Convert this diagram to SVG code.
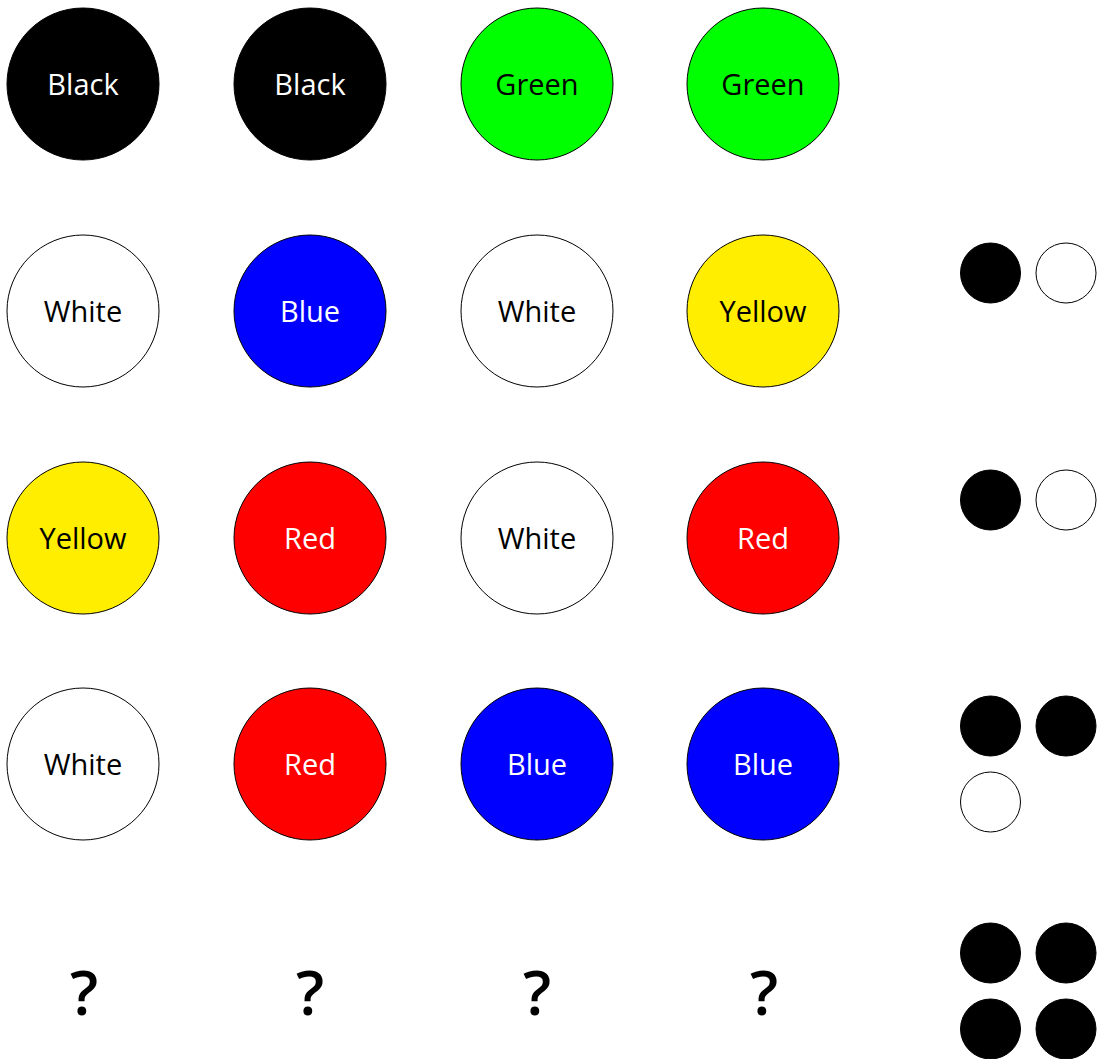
<svg xmlns="http://www.w3.org/2000/svg" width="1099" height="1059" viewBox="0 0 1099 1059">
<style>
.n{stroke:#000;stroke-width:1}
.t{font-family:"Open Sans","Noto Sans",sans-serif;font-size:29px;text-anchor:middle}
.w{fill:#fff}.k{fill:#000}
.q{font-family:"Open Sans","Noto Sans",sans-serif;font-size:62px;font-weight:600;text-anchor:middle;fill:#000}
.d{stroke:#000;stroke-width:1}
</style>
<rect width="1099" height="1059" fill="#fff"/>
<g id="r1c1"><circle class="n" cx="83" cy="84" r="76" fill="#000"/><text class="t w" x="83" y="95">Black</text></g>
<g id="r1c2"><circle class="n" cx="310" cy="84" r="76" fill="#000"/><text class="t w" x="310" y="95">Black</text></g>
<g id="r1c3"><circle class="n" cx="537" cy="84" r="76" fill="#00ff00"/><text class="t k" x="537" y="95">Green</text></g>
<g id="r1c4"><circle class="n" cx="763" cy="84" r="76" fill="#00ff00"/><text class="t k" x="763" y="95">Green</text></g>

<g id="r2c1"><circle class="n" cx="83" cy="311" r="76" fill="#fff"/><text class="t k" x="83" y="322">White</text></g>
<g id="r2c2"><circle class="n" cx="310" cy="311" r="76" fill="#0000ff"/><text class="t w" x="310" y="322">Blue</text></g>
<g id="r2c3"><circle class="n" cx="537" cy="311" r="76" fill="#fff"/><text class="t k" x="537" y="322">White</text></g>
<g id="r2c4"><circle class="n" cx="763" cy="311" r="76" fill="#ffee00"/><text class="t k" x="763" y="322">Yellow</text></g>

<g id="r3c1"><circle class="n" cx="83" cy="538" r="76" fill="#ffee00"/><text class="t k" x="83" y="549">Yellow</text></g>
<g id="r3c2"><circle class="n" cx="310" cy="538" r="76" fill="#ff0000"/><text class="t w" x="310" y="549">Red</text></g>
<g id="r3c3"><circle class="n" cx="537" cy="538" r="76" fill="#fff"/><text class="t k" x="537" y="549">White</text></g>
<g id="r3c4"><circle class="n" cx="763" cy="538" r="76" fill="#ff0000"/><text class="t w" x="763" y="549">Red</text></g>

<g id="r4c1"><circle class="n" cx="83" cy="764" r="76" fill="#fff"/><text class="t k" x="83" y="775">White</text></g>
<g id="r4c2"><circle class="n" cx="310" cy="764" r="76" fill="#ff0000"/><text class="t w" x="310" y="775">Red</text></g>
<g id="r4c3"><circle class="n" cx="537" cy="764" r="76" fill="#0000ff"/><text class="t w" x="537" y="775">Blue</text></g>
<g id="r4c4"><circle class="n" cx="763" cy="764" r="76" fill="#0000ff"/><text class="t w" x="763" y="775">Blue</text></g>

<g id="q1"><text class="q" x="84" y="1015">?</text></g>
<g id="q2"><text class="q" x="310" y="1015">?</text></g>
<g id="q3"><text class="q" x="537" y="1015">?</text></g>
<g id="q4"><text class="q" x="764" y="1015">?</text></g>

<g id="hint2"><circle class="d" cx="990.5" cy="273" r="30" fill="#000"/><circle class="d" cx="1066" cy="273" r="30" fill="#fff"/></g>
<g id="hint3"><circle class="d" cx="990.5" cy="500" r="30" fill="#000"/><circle class="d" cx="1066" cy="500" r="30" fill="#fff"/></g>
<g id="hint4"><circle class="d" cx="990.5" cy="726" r="30" fill="#000"/><circle class="d" cx="1066" cy="726" r="30" fill="#000"/><circle class="d" cx="990.5" cy="802" r="30" fill="#fff"/></g>
<g id="hint5"><circle class="d" cx="990.5" cy="953" r="30" fill="#000"/><circle class="d" cx="1066" cy="953" r="30" fill="#000"/><circle class="d" cx="990.5" cy="1029" r="30" fill="#000"/><circle class="d" cx="1066" cy="1029" r="30" fill="#000"/></g>
<g id="connectors"></g>
</svg>
